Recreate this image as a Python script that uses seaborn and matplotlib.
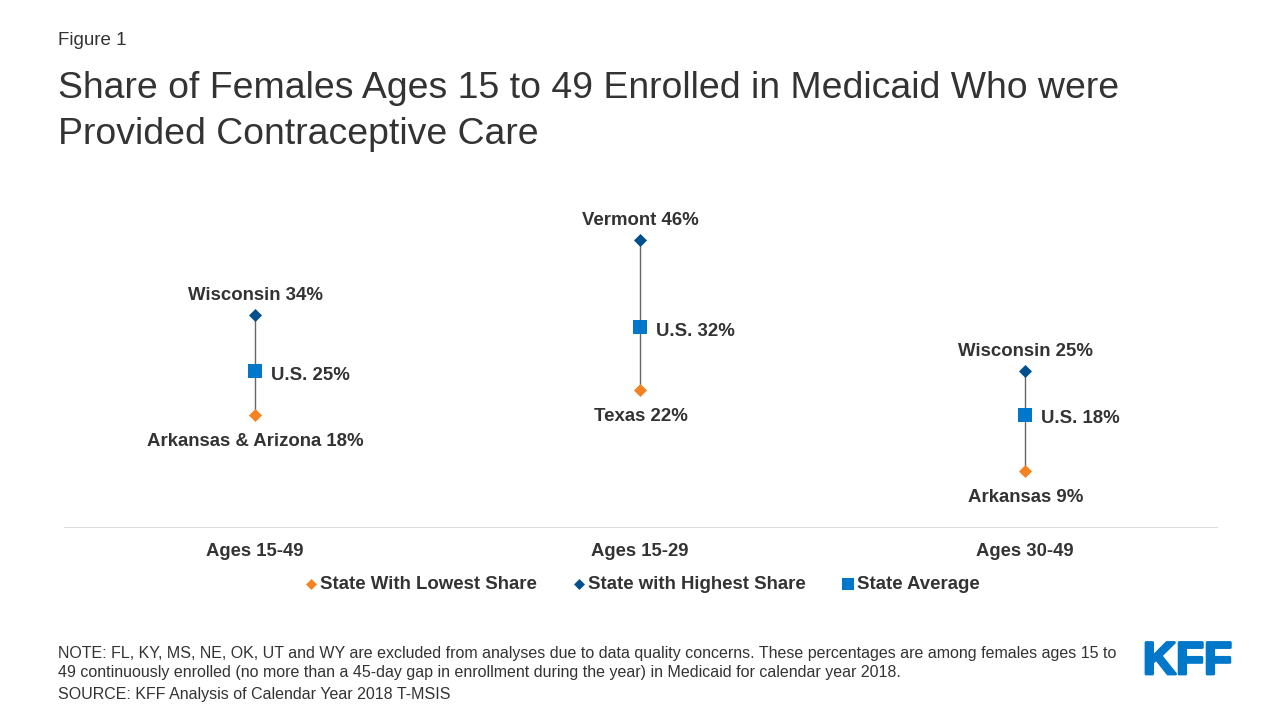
import pandas as pd
import matplotlib.pyplot as plt
import matplotlib.patheffects as pe
import seaborn as sns

# values
age_groups = ['Ages 15-49', 'Ages 15-29', 'Ages 30-49']
lowest = [18, 22, 9]
highest = [34, 46, 25]
average = [25, 32, 18]
lowest_labels = ['Arkansas & Arizona 18%', 'Texas 22%', 'Arkansas 9%']
highest_labels = ['Wisconsin 34%', 'Vermont 46%', 'Wisconsin 25%']
average_labels = ['U.S. 25%', 'U.S. 32%', 'U.S. 18%']

series_names = ['State With Lowest Share', 'State with Highest Share', 'State Average']
series_colors = ['#F58220', '#00508F', '#0077C8']
series_markers = ['D', 'D', 's']
series_sizes = [44, 44, 95]
legend_sizes = [31, 31, 63]

text_color = '#333333'

sns.set_theme(style='white')
plt.rcParams['font.family'] = ['Liberation Sans', 'DejaVu Sans']

# Long table for seaborn
df = pd.DataFrame({'group': age_groups, series_names[0]: lowest,
                   series_names[1]: highest, series_names[2]: average})
long_df = df.melt(id_vars='group', var_name='series', value_name='share')
long_df['x'] = long_df['group'].map({g: i for i, g in enumerate(age_groups)})

fig = plt.figure(figsize=(12.8, 7.2), dpi=100)
ax = fig.add_axes([62.5 / 1280, 1 - 527 / 720, 1155 / 1280, 357 / 720])

# Range lines
range_df = long_df[long_df['series'] != series_names[2]]
sns.lineplot(data=range_df, x='x', y='share', units='group', estimator=None,
             color='#666666', linewidth=1, ax=ax, legend=False, zorder=1)

# Markers
for name, color, marker, size in zip(series_names, series_colors, series_markers, series_sizes):
    sub = long_df[long_df['series'] == name]
    sns.scatterplot(data=sub, x='x', y='share', color=color, marker=marker, s=size,
                    linewidth=0, ax=ax, zorder=3, label=name)

ax.set_xlim(-0.5, 2.5)
ax.set_ylim(0, 57.12)
ax.set_xticks(range(3))
ax.set_xticklabels(age_groups, fontsize=13.3, fontweight='bold', color=text_color)
ax.tick_params(axis='x', length=0, pad=11.2)
ax.set_yticks([])
ax.set_xlabel('')
ax.set_ylabel('')
sns.despine(ax=ax, left=True)
ax.spines['bottom'].set_color('#DDDDDD')
ax.spines['bottom'].set_linewidth(0.8)
ax.spines['bottom'].set_bounds(-0.496, 2.498)

# Data labels
label_style = dict(textcoords='offset points', fontsize=13.4, fontweight='bold', color=text_color, va='center')
for i in range(3):
    ax.annotate(highest_labels[i], (i, highest[i]), xytext=(0, 13.7), ha='center', **label_style)
    ax.annotate(lowest_labels[i], (i, lowest[i]), xytext=(0.5, -19.3), ha='center', **label_style)
    ax.annotate(average_labels[i], (i, average[i]), xytext=(11.5, -3.1), ha='left', **label_style)

# Legend
leg = ax.legend(loc='center', bbox_to_anchor=(636 / 1280, 1 - 584 / 720), bbox_transform=fig.transFigure,
                ncol=3, frameon=False, prop={'size': 13.4, 'weight': 'bold'}, labelcolor=text_color,
                handletextpad=-0.55, columnspacing=1.3)
for handle, size in zip(leg.legend_handles, legend_sizes):
    handle.set_sizes([size])

# Titles and notes
fig.text(58 / 1280, 1 - 40.5 / 720, 'Figure 1', fontsize=13.5, color=text_color, va='center')
fig.text(58 / 1280, 1 - 88 / 720, 'Share of Females Ages 15 to 49 Enrolled in Medicaid Who were',
         fontsize=26.93, color=text_color, va='center')
fig.text(58 / 1280, 1 - 134 / 720, 'Provided Contraceptive Care', fontsize=26.93, color=text_color, va='center')
fig.text(58 / 1280, 1 - 653.5 / 720,
         'NOTE: FL, KY, MS, NE, OK, UT and WY are excluded from analyses due to data quality concerns. '
         'These percentages are among females ages 15 to',
         fontsize=11.53, color=text_color, va='center')
fig.text(58 / 1280, 1 - 673 / 720,
         '49 continuously enrolled (no more than a 45-day gap in enrollment during the year) in Medicaid '
         'for calendar year 2018.',
         fontsize=11.53, color=text_color, va='center')
fig.text(58 / 1280, 1 - 695 / 720, 'SOURCE: KFF Analysis of Calendar Year 2018 T-MSIS',
         fontsize=11.53, color=text_color, va='center')

# Logo wordmark
fig.text(1187.5 / 1280, 1 - 657 / 720, 'KFF', fontsize=33, fontweight='bold', color='#0077C8',
         ha='center', va='center_baseline',
         path_effects=[pe.withStroke(linewidth=2, foreground='#0077C8')])

fig.savefig('out.png', dpi=100)
